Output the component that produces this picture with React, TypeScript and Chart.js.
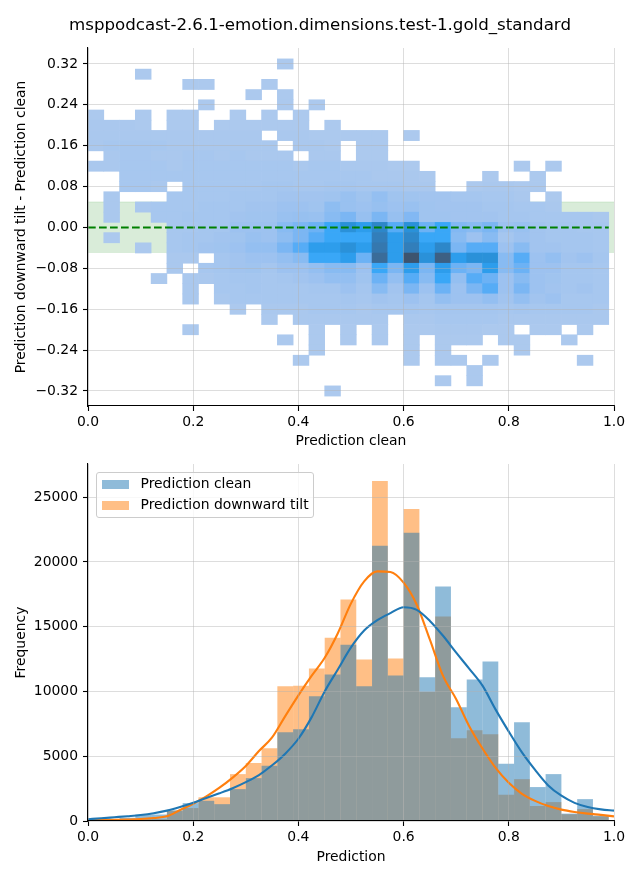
import React, { useEffect, useRef } from "react";
import { Chart, registerables } from "chart.js";

Chart.register(...registerables);

// ---------------- data ----------------
const chartTitle = "msppodcast-2.6.1-emotion.dimensions.test-1.gold_standard";
const binStarts = [0, 0.03, 0.06, 0.09, 0.12, 0.15, 0.18, 0.21, 0.24, 0.27, 0.3, 0.33, 0.36, 0.39, 0.42, 0.45, 0.48, 0.51, 0.54, 0.57, 0.6, 0.63, 0.66, 0.69, 0.72, 0.75, 0.78, 0.81, 0.84, 0.87, 0.9, 0.93, 0.96];
const BIN_W = 0.03;
const rowCenters = [0.32, 0.3, 0.28, 0.26, 0.24, 0.22, 0.2, 0.18, 0.16, 0.14, 0.12, 0.1, 0.08, 0.06, 0.04, 0.02, 0, -0.02, -0.04, -0.06, -0.08, -0.1, -0.12, -0.14, -0.16, -0.18, -0.2, -0.22, -0.24, -0.26, -0.28, -0.3, -0.32];
const ROW_H = 0.02;

// relative counts per tile (rows top->bottom, columns left->right)
const heatCounts = [
  [0,0,0,0,0,0,0,0,0,0, 0,0,1,0,0,0,0,0,0,0, 0,0,0,0,0,0,0,0,0,0, 0,0,0],
  [0,0,0,1,0,0,0,0,0,0, 0,0,0,0,0,0,0,0,0,0, 0,0,0,0,0,0,0,0,0,0, 0,0,0],
  [0,0,0,0,0,0,1,1,0,0, 0,1,0,0,0,0,0,0,0,0, 0,0,0,0,0,0,0,0,0,0, 0,0,0],
  [0,0,0,0,0,0,0,0,0,0, 1,0,1,0,0,0,0,0,0,0, 0,0,0,0,0,0,0,0,0,0, 0,0,0],
  [0,0,0,0,0,0,0,1,0,0, 0,0,1,0,1,0,0,0,0,0, 0,0,0,0,0,0,0,0,0,0, 0,0,0],
  [1,0,0,1,0,1,1,0,0,1, 0,1,0,1,0,0,0,0,0,0, 0,0,0,0,0,0,0,0,0,0, 0,0,0],
  [2,2,2,1,0,1,1,0,1,1, 1,1,1,1,0,1,0,0,0,0, 0,0,0,0,0,0,0,0,0,0, 0,0,0],
  [2,2,2,2,2,2,2,2,2,2, 2,0,2,2,1,1,1,1,1,0, 1,0,0,0,0,0,0,0,0,0, 0,0,0],
  [2,3,3,3,3,2,2,2,2,2, 2,2,0,2,2,1,0,1,1,0, 0,0,0,0,0,0,0,0,0,0, 0,0,0],
  [0,2,3,3,2,2,3,3,2,3, 2,2,2,0,2,2,0,1,1,0, 0,0,0,0,0,0,0,0,0,0, 0,0,0],
  [2,2,3,3,3,2,3,3,3,3, 3,3,3,2,3,3,2,2,2,1, 1,0,0,0,0,0,0,1,0,1, 0,0,0],
  [0,0,3,3,3,3,3,3,3,3, 3,3,3,3,3,3,3,3,2,2, 2,1,0,0,0,1,0,0,1,0, 0,0,0],
  [0,0,3,3,2,0,3,3,3,3, 3,4,4,3,3,4,4,3,3,3, 2,2,0,0,1,2,2,1,1,0, 0,0,0],
  [0,2,0,0,0,3,3,3,3,4, 4,4,5,5,5,6,8,6,10,6, 6,5,5,4,4,3,3,2,0,1, 0,0,0],
  [0,2,0,2,3,3,3,4,4,4, 5,5,7,7,6,12,8,7,9,7, 8,6,5,5,5,4,4,3,3,2, 0,0,0],
  [0,2,0,0,3,3,4,4,4,5, 6,6,8,9,8,14,18,9,18,9, 16,6,6,5,5,5,4,4,3,3, 3,3,2],
  [0,0,0,0,0,3,3,4,4,7, 7,7,14,18,22,32,50,40,58,27, 50,22,32,16,14,18,7,8,5,4, 4,3,3],
  [0,1,0,0,0,3,4,4,5,6, 8,7,12,18,27,32,32,32,65,40, 58,32,32,14,7,14,4,7,5,4, 4,4,3],
  [0,0,0,1,0,3,4,5,6,7, 10,10,18,27,40,40,50,40,70,40, 65,40,58,18,27,27,7,14,5,5, 4,4,3],
  [0,0,0,0,0,2,2,0,4,5, 7,7,10,14,32,32,40,22,80,40, 100,50,90,40,50,50,14,27,7,10, 5,7,4],
  [0,0,0,0,0,2,0,3,4,5, 6,4,7,7,10,14,14,7,32,18, 40,18,40,22,18,40,14,22,7,7, 4,4,3],
  [0,0,0,0,1,0,2,2,3,4, 4,3,4,5,7,10,10,6,22,10, 27,14,32,10,27,22,7,14,7,6, 4,4,3],
  [0,0,0,0,0,0,2,0,3,3, 4,3,3,3,4,4,7,4,14,5, 18,7,22,7,18,27,7,18,7,5, 4,5,3],
  [0,0,0,0,0,0,2,0,2,3, 3,3,3,3,3,3,4,3,5,4, 7,4,10,7,7,10,5,10,5,7, 3,3,3],
  [0,0,0,0,0,0,0,0,0,1, 0,2,2,2,3,3,3,2,3,3, 4,3,4,4,4,4,3,4,3,3, 3,3,2],
  [0,0,0,0,0,0,0,0,0,0, 0,1,0,2,2,2,2,2,2,0, 2,2,3,3,3,3,2,2,2,2, 2,2,2],
  [0,0,0,0,0,0,1,0,0,0, 0,0,0,0,1,0,1,0,1,0, 1,1,2,2,2,1,1,0,1,1, 0,1,0],
  [0,0,0,0,0,0,0,0,0,0, 0,0,1,0,1,0,1,0,1,0, 1,0,1,1,1,0,1,1,0,0, 1,0,0],
  [0,0,0,0,0,0,0,0,0,0, 0,0,0,0,1,0,0,0,0,0, 1,0,1,0,0,0,0,1,0,0, 0,0,0],
  [0,0,0,0,0,0,0,0,0,0, 0,0,0,1,0,0,0,0,0,0, 1,0,1,1,0,1,0,0,0,0, 0,1,0],
  [0,0,0,0,0,0,0,0,0,0, 0,0,0,0,0,0,0,0,0,0, 0,0,0,0,1,0,0,0,0,0, 0,0,0],
  [0,0,0,0,0,0,0,0,0,0, 0,0,0,0,0,0,0,0,0,0, 0,0,1,0,1,0,0,0,0,0, 0,0,0],
  [0,0,0,0,0,0,0,0,0,0, 0,0,0,0,0,1,0,0,0,0, 0,0,0,0,0,0,0,0,0,0, 0,0,0],
];

const bandLow = -0.05;
const bandHigh = 0.05;
const zeroLineEnd = 0.99;

const topXTicks = [0, 0.2, 0.4, 0.6, 0.8, 1.0];
const topYTicks = [-0.32, -0.24, -0.16, -0.08, 0, 0.08, 0.16, 0.24, 0.32];

const cleanCounts = [100, 150, 250, 500, 500, 820, 1380, 1560, 1300, 2460, 3310, 4260, 6850, 7080, 9630, 11320, 13600, 10400, 21250, 11240, 22250, 11090, 18100, 8780, 10930, 12320, 4415, 7620, 2620, 3620, 570, 1690, 400];
const tiltCounts = [50, 60, 90, 150, 150, 800, 1000, 1830, 1830, 3620, 4470, 5620, 10400, 10450, 11780, 14140, 17100, 12470, 26250, 12550, 24080, 9960, 15790, 6390, 7010, 6700, 2030, 3230, 1160, 1460, 520, 920, 360];

const kdeX = [0, 0.025, 0.05, 0.075, 0.1, 0.125, 0.15, 0.175, 0.2, 0.225, 0.25, 0.275, 0.3, 0.325, 0.35, 0.375, 0.4, 0.425, 0.45, 0.475, 0.5, 0.525, 0.55, 0.575, 0.6, 0.625, 0.65, 0.675, 0.7, 0.725, 0.75, 0.775, 0.8, 0.825, 0.85, 0.875, 0.9, 0.925, 0.95, 0.975, 1.0];
const cleanKde = [140, 210, 290, 370, 460, 600, 800, 1080, 1400, 1780, 2140, 2530, 3000, 3550, 4300, 5200, 6350, 8000, 10000, 11700, 13400, 14700, 15500, 16050, 16500, 16300, 15450, 14300, 13000, 11750, 10450, 8600, 6900, 5300, 3950, 2750, 1950, 1400, 1080, 900, 800];
const tiltKde = [70, 80, 95, 115, 150, 230, 360, 850, 1330, 1900, 2570, 3350, 4250, 5400, 6450, 8100, 9700, 11200, 12600, 14500, 16800, 18500, 19270, 19220, 18400, 16700, 14000, 11200, 9400, 7300, 5600, 4100, 2950, 2100, 1550, 1150, 880, 700, 570, 470, 360];

const botXTicks = [0, 0.2, 0.4, 0.6, 0.8, 1.0];
const botYTicks = [0, 5000, 10000, 15000, 20000, 25000];

const seriesLabels = ["Prediction clean", "Prediction downward tilt"];

// ---------------- styling helpers ----------------
const FONT = "'DejaVu Sans', sans-serif";
const FS = 13.9;
const GRID = "rgba(176,176,176,0.55)";
const C0 = "#1f77b4";
const C1 = "#ff7f0e";

// seaborn husl implementation (for the bivariate histogram colormap)
const HM = [
  [3.2406, -1.5372, -0.4986],
  [-0.9689, 1.8758, 0.0415],
  [0.0557, -0.204, 1.057],
];
const HM_INV = [
  [0.4124, 0.3576, 0.1805],
  [0.2126, 0.7152, 0.0722],
  [0.0193, 0.1192, 0.9505],
];
const refU = 0.19784;
const refV = 0.46834;
const labE = 0.008856;
const labK = 903.3;

function maxChroma(L: number, H: number) {
  const hrad = (H * Math.PI) / 180;
  const sinH = Math.sin(hrad);
  const cosH = Math.cos(hrad);
  const sub1 = Math.pow(L + 16, 3) / 1560896.0;
  const sub2 = sub1 > labE ? sub1 : L / labK;
  let result = Infinity;
  for (const row of HM) {
    const [m1, m2, m3] = row;
    const top = (0.99915 * m1 + 1.05122 * m2 + 1.1446 * m3) * sub2;
    const rbottom = 0.8633 * m3 - 0.17266 * m2;
    const lbottom = 0.12949 * m3 - 0.38848 * m1;
    const bottom = (rbottom * sinH + lbottom * cosH) * sub2;
    for (const t of [0, 1]) {
      const C = (L * (top - 1.05122 * t)) / (bottom + 0.17266 * sinH * t);
      if (C > 0 && C < result) result = C;
    }
  }
  return result;
}
const fInv = (t: number) => (Math.pow(t, 3) > labE ? Math.pow(t, 3) : (116 * t - 16) / labK);
const fwd = (t: number) => (t > labE ? Math.pow(t, 1 / 3) : 7.787 * t + 16 / 116);
const fromLinear = (c: number) => (c <= 0.0031308 ? 12.92 * c : 1.055 * Math.pow(c, 1 / 2.4) - 0.055);
const toLinear = (c: number) => (c > 0.04045 ? Math.pow((c + 0.055) / 1.055, 2.4) : c / 12.92);

function huslToRgb(H: number, S: number, L: number) {
  let C = 0;
  if (L > 99.9999999) { L = 100; C = 0; }
  else if (L < 1e-8) { L = 0; C = 0; }
  else C = (maxChroma(L, H) / 100) * S;
  const hrad = (H * Math.PI) / 180;
  const U = Math.cos(hrad) * C;
  const V = Math.sin(hrad) * C;
  if (L === 0) return [0, 0, 0];
  const Y = fInv((L + 16) / 116);
  const varU = U / (13 * L) + refU;
  const varV = V / (13 * L) + refV;
  const X = 0 - (9 * Y * varU) / ((varU - 4) * varV - varU * varV);
  const Z = (9 * Y - 15 * varV * Y - varV * X) / (3 * varV);
  return HM.map((r) => fromLinear(r[0] * X + r[1] * Y + r[2] * Z));
}
function rgbToHusl(r: number, g: number, b: number) {
  const rl = [toLinear(r), toLinear(g), toLinear(b)];
  const [X, Y, Z] = HM_INV.map((m) => m[0] * rl[0] + m[1] * rl[1] + m[2] * rl[2]);
  const denom = X + 15 * Y + 3 * Z;
  const varU = (4 * X) / denom;
  const varV = (9 * Y) / denom;
  const L = 116 * fwd(Y) - 16;
  const U = 13 * L * (varU - refU);
  const V = 13 * L * (varV - refV);
  const C = Math.sqrt(U * U + V * V);
  let H = (Math.atan2(V, U) * 180) / Math.PI;
  if (H < 0) H += 360;
  const S = (C / maxChroma(L, H)) * 100;
  return [H, S, L];
}
const [seedH, seedS] = rgbToHusl(31 / 255, 119 / 255, 180 / 255);
function cmap(t: number) {
  const idx = Math.min(255, Math.max(0, Math.floor(t * 256)));
  const j = 255 - idx;
  const xx = -1 + (2 * j) / 293;
  const L = 35 + (45 * j) / 255;
  const S = seedS * Math.cos(xx);
  const [r, g, b] = huslToRgb(seedH, S, L).map((c) => Math.round(Math.min(1, Math.max(0, c)) * 255));
  return `rgb(${r},${g},${b})`;
}

const fmtSigned = (v: number, d: number) => {
  const s = Math.abs(v).toFixed(d);
  return v < -1e-9 ? "\u2212" + s : s;
};

function makeAxis(o: any) {
  return {
    type: "linear",
    position: o.position,
    min: o.min,
    max: o.max,
    offset: false,
    grid: {
      color: o.hideZeroGrid ? (ctx: any) => (ctx.tick && Math.abs(ctx.tick.value) < 1e-9 ? "rgba(0,0,0,0)" : GRID) : GRID,
      lineWidth: 0.8,
      tickColor: "#000",
      tickLength: 5,
      tickWidth: 1.1,
      offset: false,
      drawTicks: true,
      z: 1,
    },
    border: { display: true, color: "#000", width: 1.1, z: 2 },
    ticks: {
      font: { family: FONT, size: FS },
      color: "#000",
      padding: o.tickPadding,
      autoSkip: false,
      maxRotation: 0,
      callback: o.fmt,
    },
    afterBuildTicks: (s: any) => {
      s.ticks = o.ticks.map((v: number) => ({ value: v }));
    },
    afterFit: (s: any) => {
      if (o.position === "bottom") s.height = o.size;
      else {
        s.width = o.size;
        s.paddingTop = 0;
        s.paddingBottom = 0;
      }
    },
    title: {
      display: true,
      text: o.title,
      color: "#000",
      font: { family: FONT, size: FS },
      padding: o.titlePadding,
    },
  };
}

function topConfig(): any {
  const tiles: any[] = [];
  const colors: string[] = [];
  let vmin = Infinity;
  let vmax = 0;
  heatCounts.forEach((row) => row.forEach((v) => { if (v > 0) { vmin = Math.min(vmin, v); vmax = Math.max(vmax, v); } }));
  heatCounts.forEach((row, r) =>
    row.forEach((v, c) => {
      if (v > 0) {
        tiles.push({ x: binStarts[c] + BIN_W / 2, y: [rowCenters[r] - ROW_H / 2, rowCenters[r] + ROW_H / 2] });
        colors.push(cmap((v - vmin) / (vmax - vmin)));
      }
    })
  );
  return {
    type: "bar",
    data: {
      datasets: [
        {
          type: "line",
          data: [{ x: 0, y: 0 }, { x: zeroLineEnd, y: 0 }],
          borderColor: "#008000",
          borderWidth: 2.1,
          borderDash: [7.7, 3.3],
          pointRadius: 0,
          fill: false,
          order: 0,
        },
        {
          type: "bar",
          data: tiles,
          backgroundColor: colors,
          borderWidth: 0,
          barPercentage: 1,
          categoryPercentage: 1,
          grouped: false,
          order: 1,
        },
        {
          type: "line",
          data: [{ x: 0, y: bandHigh }, { x: 1, y: bandHigh }],
          fill: { value: bandLow },
          backgroundColor: "rgba(0,128,0,0.15)",
          borderColor: "rgba(0,128,0,0.12)",
          borderWidth: 1,
          pointRadius: 0,
          order: 3,
        },
      ],
    },
    options: {
      responsive: false,
      animation: false,
      events: [],
      layout: { padding: { left: 0, right: 26, top: 48, bottom: 0 } },
      plugins: { legend: { display: false }, tooltip: { enabled: false }, title: { display: false } },
      scales: {
        x: makeAxis({ position: "bottom", min: 0, max: 1, ticks: topXTicks, fmt: (v: any) => Number(v).toFixed(1), size: 54, tickPadding: 3, title: "Prediction clean", titlePadding: { top: 0, bottom: 10.7 } }),
        y: makeAxis({ position: "left", min: -0.3494, max: 0.3513, ticks: topYTicks, fmt: (v: any) => fmtSigned(Number(v), 2), size: 88, tickPadding: 5, title: "Prediction downward tilt - Prediction clean", titlePadding: { top: 13, bottom: 0 }, hideZeroGrid: true }),
      },
    },
  };
}

function botConfig(): any {
  const barPts = (arr: number[]) => binStarts.map((s, i) => ({ x: s + BIN_W / 2, y: arr[i] }));
  const linePts = (arr: number[]) => kdeX.map((x, i) => ({ x, y: arr[i] }));
  const barCommon = { type: "bar", borderWidth: 0, barPercentage: 1, categoryPercentage: 1, grouped: false, inflateAmount: 0, order: 1 };
  const lineCommon = { type: "line", pointRadius: 0, borderWidth: 2.1, fill: false, cubicInterpolationMode: "monotone", order: 0 };
  return {
    type: "bar",
    data: {
      datasets: [
        { ...barCommon, label: seriesLabels[0], data: barPts(cleanCounts), backgroundColor: "rgba(31,119,180,0.5)" },
        { ...barCommon, label: seriesLabels[1], data: barPts(tiltCounts), backgroundColor: "rgba(255,127,14,0.5)" },
        { ...lineCommon, label: "kde clean", data: linePts(cleanKde), borderColor: C0 },
        { ...lineCommon, label: "kde tilt", data: linePts(tiltKde), borderColor: C1 },
      ],
    },
    options: {
      responsive: false,
      animation: false,
      events: [],
      layout: { padding: { left: 0, right: 26, top: 4, bottom: 0 } },
      plugins: { legend: { display: false }, tooltip: { enabled: false }, title: { display: false } },
      scales: {
        x: makeAxis({ position: "bottom", min: 0, max: 1, ticks: botXTicks, fmt: (v: any) => Number(v).toFixed(1), size: 59, tickPadding: 3, title: "Prediction", titlePadding: { top: 0, bottom: 14.6 } }),
        y: makeAxis({ position: "left", min: 0, max: 27562, ticks: botYTicks, fmt: (v: any) => String(Math.round(Number(v))), size: 88, tickPadding: 5, title: "Frequency", titlePadding: { top: 13, bottom: 0 } }),
      },
    },
  };
}

export default function App() {
  const topRef = useRef<HTMLCanvasElement>(null);
  const botRef = useRef<HTMLCanvasElement>(null);

  useEffect(() => {
    Chart.defaults.font.family = FONT;
    Chart.defaults.color = "#000";
    const c1 = new Chart(topRef.current as HTMLCanvasElement, topConfig());
    const c2 = new Chart(botRef.current as HTMLCanvasElement, botConfig());
    return () => {
      c1.destroy();
      c2.destroy();
    };
  }, []);

  const legendText: React.CSSProperties = {
    position: "absolute",
    left: 140.5,
    fontSize: FS,
    lineHeight: "16px",
    whiteSpace: "nowrap",
    color: "#000",
  };
  const patch: React.CSSProperties = { position: "absolute", left: 101.6, width: 27.8, height: 9.7 };

  return (
    <div style={{ position: "absolute", left: 0, top: 0, width: 640, height: 880, background: "#fff", fontFamily: FONT, overflow: "hidden" }}>
      <canvas ref={topRef} width={640} height={460} style={{ position: "absolute", left: 0, top: 0, width: 640, height: 460 }} />
      <canvas ref={botRef} width={640} height={420} style={{ position: "absolute", left: 0, top: 460, width: 640, height: 420 }} />
      <div style={{ position: "absolute", left: 0, top: 15, width: 640, textAlign: "center", fontSize: 16.67, lineHeight: "20px", color: "#000", whiteSpace: "nowrap" }}>
        {chartTitle}
      </div>
      <div style={{ position: "absolute", left: 96, top: 472, width: 218, height: 46, boxSizing: "border-box", border: "1px solid #cccccc", borderRadius: 3, background: "rgba(255,255,255,0.8)" }} />
      <div style={{ ...patch, top: 479.7, background: "rgba(31,119,180,0.5)" }} />
      <div style={{ ...legendText, top: 475.4 }}>{seriesLabels[0]}</div>
      <div style={{ ...patch, top: 500.5, background: "rgba(255,127,14,0.5)" }} />
      <div style={{ ...legendText, top: 496.3 }}>{seriesLabels[1]}</div>
    </div>
  );
}
